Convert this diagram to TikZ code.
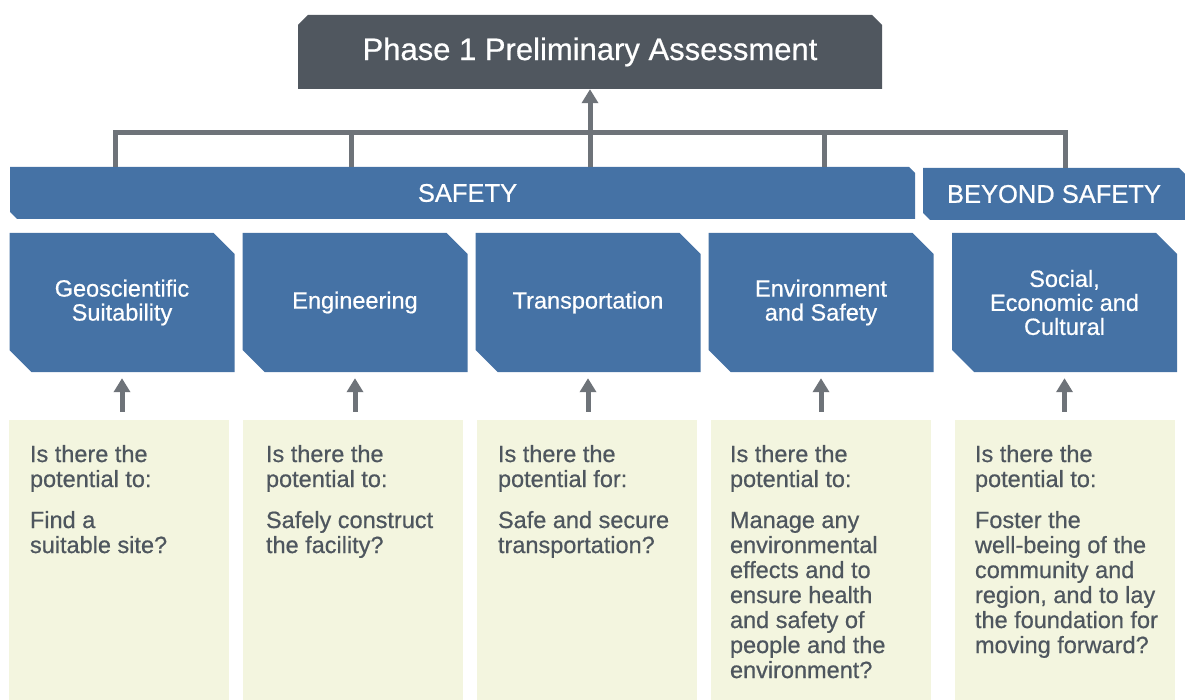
\documentclass[tikz,border=0pt]{standalone}
\usepackage{fontspec}
\setmainfont{Liberation Sans}[FakeBold=0.6]
\usetikzlibrary{arrows.meta}

\definecolor{headgray}{HTML}{50575F}
\definecolor{linkgray}{HTML}{6E7379}
\definecolor{catblue}{HTML}{4572A5}
\definecolor{qyellow}{HTML}{F3F5DF}
\definecolor{qtext}{HTML}{4E565E}

\begin{document}
\begin{tikzpicture}[x=1pt,y=-1pt,
head/.style={minimum width=584pt,minimum height=74pt,inner sep=0pt,text=white,
    font=\fontsize{31}{36}\selectfont,
    path picture={\fill[headgray] ([yshift=-10pt]path picture bounding box.north west)
        -- ([xshift=10pt]path picture bounding box.north west)
        -- ([xshift=-10pt]path picture bounding box.north east)
        -- ([yshift=-10pt]path picture bounding box.north east)
        -- (path picture bounding box.south east)
        -- (path picture bounding box.south west) -- cycle;}},
bar/.style={minimum height=52pt,inner sep=0pt,text=white,
    font=\fontsize{25.5}{30}\selectfont,
    path picture={\fill[catblue] (path picture bounding box.north west)
        -- ([xshift=-6pt]path picture bounding box.north east)
        -- ([yshift=-6pt]path picture bounding box.north east)
        -- (path picture bounding box.south east)
        -- ([xshift=7pt]path picture bounding box.south west)
        -- ([yshift=7pt]path picture bounding box.south west) -- cycle;}},
topic/.style={minimum width=225pt,minimum height=139pt,inner sep=0pt,text=white,
    align=center,font=\fontsize{23.5}{24}\selectfont,
    path picture={\fill[catblue] (path picture bounding box.north west)
        -- ([xshift=-21pt]path picture bounding box.north east)
        -- ([yshift=-21pt]path picture bounding box.north east)
        -- (path picture bounding box.south east)
        -- ([xshift=22pt]path picture bounding box.south west)
        -- ([yshift=22pt]path picture bounding box.south west) -- cycle;}},
query/.style={minimum width=220pt,minimum height=280pt,inner sep=0pt,fill=qyellow},
ask/.style={anchor=north west,inner sep=0pt,align=left,text=qtext,
    font=\fontsize{23.5}{25}\selectfont},
link/.style={draw=linkgray,line width=5pt},
uparrow/.style={draw=linkgray,line width=5pt,-{Triangle[width=16pt,length=14pt]}},
feed/.style={uparrow,shorten <=8pt,shorten >=6pt}]

\useasboundingbox (0,0) rectangle (1185,700);

\node (phase) [head] at (590,52) {Phase 1 Preliminary Assessment};

\node (safety) [bar,minimum width=905pt] at (462.5,193) {\hspace{10pt}SAFETY};
\node (beyond) [bar,minimum width=262pt] at (1054,194) {BEYOND SAFETY};

\node (geo) [topic] at (122,302.5) {Geoscientific\\Suitability};
\node (eng) [topic] at (355,302.5) {Engineering};
\node (trans) [topic] at (588,302.5) {Transportation};
\node (env) [topic] at (821,302.5) {Environment\\and Safety};
\node (soc) [topic] at (1064.5,302.5) {Social,\\Economic and\\Cultural};

\node (qgeo) [query] at (119,560) {};
\node (qeng) [query] at (353,560) {};
\node (qtrans) [query] at (587,560) {};
\node (qenv) [query] at (821,560) {};
\node (qsoc) [query] at (1065,560) {};

\node (askgeo) [ask] at ([xshift=21pt,yshift=-25pt]qgeo.north west)
    {Is there the\\potential to:\\[16pt]Find a\\suitable site?};
\node (askeng) [ask] at ([xshift=23pt,yshift=-25pt]qeng.north west)
    {Is there the\\potential to:\\[16pt]Safely construct\\the facility?};
\node (asktrans) [ask] at ([xshift=21pt,yshift=-25pt]qtrans.north west)
    {Is there the\\potential for:\\[16pt]Safe and secure\\transportation?};
\node (askenv) [ask] at ([xshift=19pt,yshift=-25pt]qenv.north west)
    {Is there the\\potential to:\\[16pt]Manage any\\environmental\\effects and to\\ensure health\\and safety of\\people and the\\environment?};
\node (asksoc) [ask] at ([xshift=20pt,yshift=-25pt]qsoc.north west)
    {Is there the\\potential to:\\[16pt]Foster the\\well-being of the\\community and\\region, and to lay\\the foundation for\\moving forward?};

\coordinate (j1) at (115,133);
\coordinate (j2) at (351,133);
\coordinate (j4) at (824,133);
\coordinate (j5) at (1065,133);
\draw[link] (safety.north -| j1) -- (j1) -- (j5) -- (beyond.north -| j5);
\draw[link] (j2) -- (safety.north -| j2);
\draw[link] (j4) -- (safety.north -| j4);
\draw[uparrow] (safety.north -| phase.south) -- (phase.south);

\draw[feed] (geo.south |- qgeo.north) -- (geo.south);
\draw[feed] (eng.south |- qeng.north) -- (eng.south);
\draw[feed] (trans.south |- qtrans.north) -- (trans.south);
\draw[feed] (env.south |- qenv.north) -- (env.south);
\draw[feed] (soc.south |- qsoc.north) -- (soc.south);
\end{tikzpicture}
\end{document}
